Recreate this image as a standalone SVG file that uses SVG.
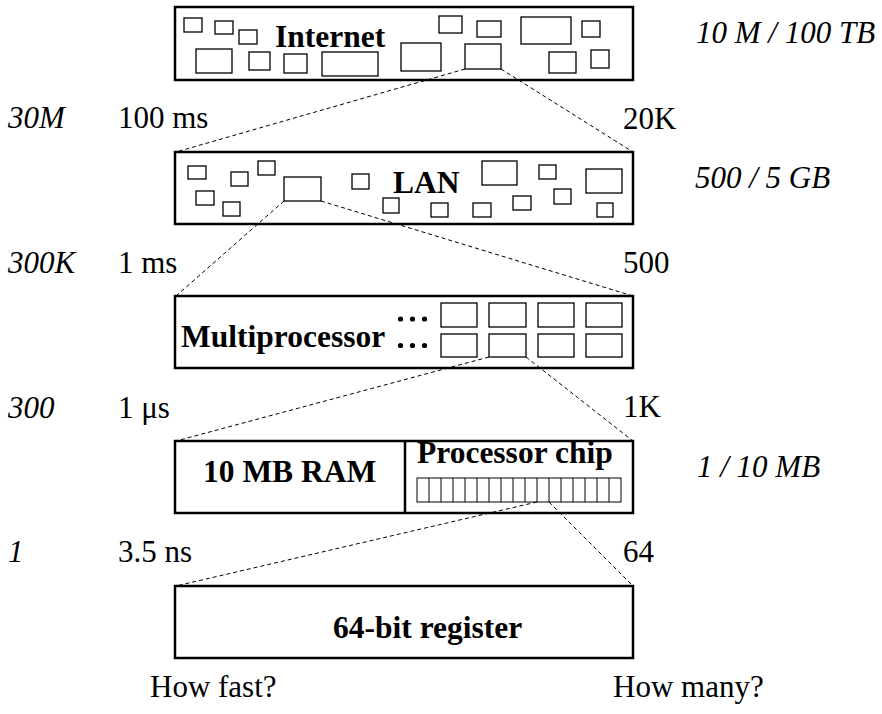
<svg xmlns="http://www.w3.org/2000/svg" width="882" height="714" viewBox="0 0 882 714">
<style>
  .frame { fill: #fff; stroke: #000; stroke-width: 2.5; }
  .sb { fill: none; stroke: #000; stroke-width: 1.3; }
  .cell { fill: none; stroke: #000; stroke-width: 1; }
  .dash { fill: none; stroke: #000; stroke-width: 1; stroke-dasharray: 4 3; }
  .dot { fill: #000; }
  text { font-family: "Liberation Serif", "DejaVu Serif", serif; fill: #000; }
  .b { font-weight: bold; font-size: 31.5px; }
  .r { font-size: 31px; }
  .i { font-size: 31px; font-style: italic; }
</style>
<rect width="882" height="714" fill="#fff"/>

<g id="internet">
  <rect class="frame" x="175" y="7" width="458" height="73"/>
  <rect class="sb" x="184" y="18" width="18" height="14"/>
  <rect class="sb" x="215" y="21" width="18" height="13"/>
  <rect class="sb" x="239" y="30" width="18" height="14"/>
  <rect class="sb" x="196" y="49" width="36" height="24"/>
  <rect class="sb" x="249" y="52" width="21" height="18"/>
  <rect class="sb" x="284" y="54" width="23" height="19"/>
  <rect class="sb" x="322" y="52" width="56" height="24"/>
  <rect class="sb" x="401" y="43" width="40" height="28"/>
  <rect class="sb" x="439" y="16" width="23" height="17"/>
  <rect class="sb" x="477" y="21" width="24" height="16"/>
  <rect class="sb" x="465" y="44" width="36" height="25"/>
  <rect class="sb" x="521" y="17" width="50" height="27"/>
  <rect class="sb" x="582" y="21" width="18" height="16"/>
  <rect class="sb" x="549" y="52" width="27" height="21"/>
  <rect class="sb" x="591" y="50" width="18" height="18"/>
  <text class="b" x="275" y="47" font-family="Liberation Serif, DejaVu Serif, serif">Internet</text>
</g>

<g id="lan">
  <rect class="frame" x="175" y="152" width="458" height="72"/>
  <rect class="sb" x="188" y="166" width="18" height="13"/>
  <rect class="sb" x="231" y="172" width="17" height="14"/>
  <rect class="sb" x="258" y="161" width="17" height="14"/>
  <rect class="sb" x="196" y="191" width="18" height="14"/>
  <rect class="sb" x="223" y="202" width="17" height="14"/>
  <rect class="sb" x="284" y="177" width="37" height="24"/>
  <rect class="sb" x="352" y="174" width="17" height="15"/>
  <rect class="sb" x="383" y="198" width="16" height="15"/>
  <rect class="sb" x="431" y="203" width="17" height="14"/>
  <rect class="sb" x="473" y="203" width="18" height="14"/>
  <rect class="sb" x="513" y="196" width="18" height="14"/>
  <rect class="sb" x="482" y="161" width="35" height="24"/>
  <rect class="sb" x="539" y="165" width="17" height="14"/>
  <rect class="sb" x="554" y="189" width="17" height="15"/>
  <rect class="sb" x="586" y="169" width="36" height="24"/>
  <rect class="sb" x="597" y="203" width="16" height="14"/>
  <text class="b" x="393" y="193">LAN</text>
</g>

<g id="multiprocessor">
  <rect class="frame" x="175" y="296" width="458" height="72"/>
  <rect class="sb" x="441" y="303" width="36" height="24"/>
  <rect class="sb" x="489" y="303" width="37" height="24"/>
  <rect class="sb" x="538" y="303" width="36" height="24"/>
  <rect class="sb" x="586" y="303" width="36" height="24"/>
  <rect class="sb" x="441" y="334" width="36" height="23"/>
  <rect class="sb" x="489" y="334" width="37" height="23"/>
  <rect class="sb" x="538" y="334" width="36" height="23"/>
  <rect class="sb" x="586" y="334" width="36" height="23"/>
  <text class="b" x="181" y="347">Multiprocessor</text>
  <circle class="dot" cx="400.5" cy="319" r="2.6"/>
  <circle class="dot" cx="412.5" cy="319" r="2.6"/>
  <circle class="dot" cx="424.5" cy="319" r="2.6"/>
  <circle class="dot" cx="400.5" cy="345.5" r="2.6"/>
  <circle class="dot" cx="412.5" cy="345.5" r="2.6"/>
  <circle class="dot" cx="424.5" cy="345.5" r="2.6"/>
</g>

<g id="ram-chip">
  <rect class="frame" x="175" y="441" width="458" height="72"/>
  <line x1="405" y1="441" x2="405" y2="513" stroke="#000" stroke-width="2.5"/>
  <text class="b" x="203" y="482">10 MB RAM</text>
  <text class="b" x="417" y="463">Processor chip</text>
  <rect class="cell" x="417" y="478" width="204" height="24"/>
  <path class="cell" d="M429 478V502M441 478V502M453 478V502M465 478V502M477 478V502M489 478V502M501 478V502M513 478V502M525 478V502M537 478V502M549 478V502M561 478V502M573 478V502M585 478V502M597 478V502M609 478V502"/>
</g>

<g id="register">
  <rect class="frame" x="175" y="586" width="458" height="72"/>
  <text class="b" x="333" y="638">64-bit register</text>
</g>

<g id="connectors">
  <line class="dash" x1="465" y1="69" x2="176" y2="152"/>
  <line class="dash" x1="501" y1="69" x2="633" y2="152"/>
  <line class="dash" x1="284" y1="201" x2="176" y2="296"/>
  <line class="dash" x1="321" y1="201" x2="633" y2="296"/>
  <line class="dash" x1="489" y1="357" x2="176" y2="441"/>
  <line class="dash" x1="526" y1="357" x2="633" y2="441"/>
  <line class="dash" x1="537" y1="502" x2="176" y2="586"/>
  <line class="dash" x1="549" y1="502" x2="633" y2="586"/>
</g>

<g id="labels">
  <text class="i" x="696" y="43">10 M / 100 TB</text>
  <text class="i" x="8" y="128">30M</text>
  <text class="r" x="118" y="128">100 ms</text>
  <text class="r" x="623" y="129">20K</text>
  <text class="i" x="695" y="188">500 / 5 GB</text>
  <text class="i" x="8" y="273">300K</text>
  <text class="r" x="118" y="273">1 ms</text>
  <text class="r" x="623" y="273">500</text>
  <text class="i" x="8" y="418">300</text>
  <text class="r" x="118" y="418">1 μs</text>
  <text class="r" x="623" y="417">1K</text>
  <text class="i" x="697" y="477">1 / 10 MB</text>
  <text class="i" x="8" y="562">1</text>
  <text class="r" x="118" y="562">3.5 ns</text>
  <text class="r" x="623" y="562">64</text>
  <text class="r" x="150" y="697">How fast?</text>
  <text class="r" x="613" y="697">How many?</text>
</g>
</svg>
